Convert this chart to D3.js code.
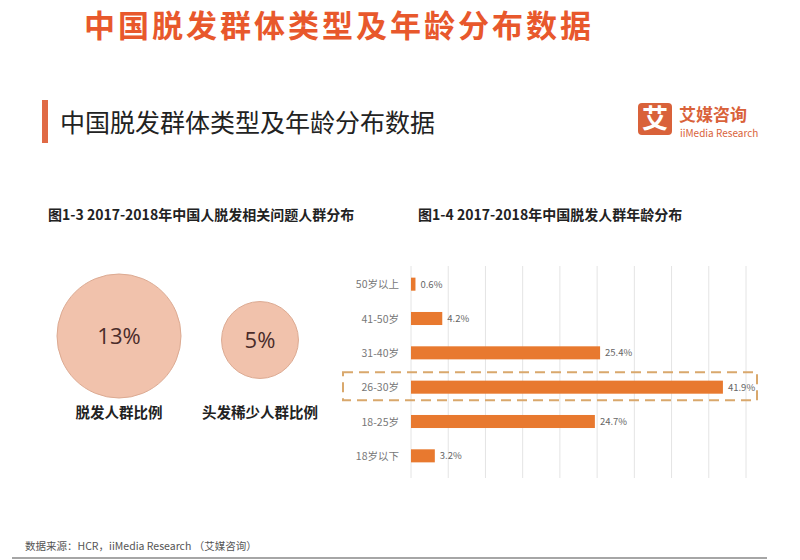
<!DOCTYPE html>
<html><head><meta charset="utf-8">
<script src="https://cdn.jsdelivr.net/npm/d3@7/dist/d3.min.js"></script>
<style>
html,body{margin:0;padding:0;background:#fff;}
svg{display:block;font-family:"Noto Sans CJK SC","Noto Sans",sans-serif;}
</style></head>
<body><svg id="c" width="800" height="560"></svg>
<script>
const pageTitle = "中国脱发群体类型及年龄分布数据";
const chartTitle1 = "图1-3 2017-2018年中国人脱发相关问题人群分布";
const chartTitle2 = "图1-4 2017-2018年中国脱发人群年龄分布";
const circleLabels = ["脱发人群比例", "头发稀少人群比例"];
const circleValues = [13, 5];
const ageGroups = ["50岁以上", "41-50岁", "31-40岁", "26-30岁", "18-25岁", "18岁以下"];
const ageValues = [0.6, 4.2, 25.4, 41.9, 24.7, 3.2];
const gridTicks = [0, 5, 10, 15, 20, 25, 30, 35, 40, 45];
const highlightGroup = "26-30岁";
const sourceText = "数据来源：HCR，iiMedia Research （艾媒咨询）";

const svg = d3.select("#c");
const orange = "#e8792f";

// top title
svg.append("text").attr("x", 84).attr("y", 37).attr("font-size", 31).attr("font-weight", "bold")
  .attr("fill", "#e8582c").attr("letter-spacing", 3).text(pageTitle);

// header bar + title
svg.append("rect").attr("x", 42).attr("y", 100).attr("width", 6).attr("height", 43).attr("fill", "#e06a45");
svg.append("text").attr("x", 60).attr("y", 132).attr("font-size", 25).attr("fill", "#222").text(pageTitle);

// logo
svg.append("rect").attr("x", 638).attr("y", 103).attr("width", 34).attr("height", 32).attr("rx", 4).attr("fill", "#d9623a");
svg.append("text").attr("x", 655).attr("y", 128).attr("text-anchor", "middle").attr("font-size", 26).attr("font-weight", "bold").attr("fill", "#fff").text("艾");
svg.append("text").attr("x", 679).attr("y", 121).attr("font-size", 17).attr("font-weight", "bold").attr("fill", "#d9623a").text("艾媒咨询");
svg.append("text").attr("x", 680).attr("y", 137).attr("font-size", 10).attr("fill", "#d9623a").text("iiMedia Research");

// chart titles
svg.append("text").attr("x", 48).attr("y", 220).attr("font-size", 14).attr("font-weight", "bold").attr("fill", "#222").text(chartTitle1);
svg.append("text").attr("x", 418).attr("y", 220).attr("font-size", 14).attr("font-weight", "bold").attr("fill", "#222").text(chartTitle2);

// circles
const rScale = d3.scaleSqrt().domain([0, 13]).range([0, 62]);
const cx = d3.scalePoint().domain(circleLabels).range([119, 260]);
const cy = [336, 340];
const g1 = svg.append("g");
circleLabels.forEach((lab, i) => {
  g1.append("circle").attr("cx", cx(lab)).attr("cy", cy[i]).attr("r", rScale(circleValues[i]))
    .attr("fill", "#f1c2ac").attr("stroke", "#dcaa92").attr("stroke-width", 1);
  g1.append("text").attr("x", cx(lab)).attr("y", cy[i] + 8).attr("text-anchor", "middle")
    .attr("font-size", 22).attr("fill", "#4a2c2a").attr("font-family", "'Open Sans', sans-serif")
    .text(circleValues[i] + "%");
  g1.append("text").attr("x", cx(lab)).attr("y", 418).attr("text-anchor", "middle")
    .attr("font-size", 14.5).attr("font-weight", "bold").attr("fill", "#222").text(lab);
});

// bar chart
const x = d3.scaleLinear().domain([0, 45]).range([411, 746]);
const y = d3.scaleBand().domain(ageGroups).range([267, 473]).paddingInner(0.62).paddingOuter(0.31);
const g2 = svg.append("g");
g2.selectAll("line.grid").data(gridTicks).enter().append("line")
  .attr("x1", d => x(d)).attr("x2", d => x(d)).attr("y1", 266).attr("y2", 478)
  .attr("stroke", "#e4e4e4").attr("stroke-width", 1);
g2.selectAll("rect.bar").data(ageValues).enter().append("rect")
  .attr("x", x(0)).attr("y", (d, i) => y(ageGroups[i]))
  .attr("width", d => x(d) - x(0)).attr("height", y.bandwidth()).attr("fill", orange);
g2.selectAll("text.val").data(ageValues).enter().append("text")
  .attr("x", d => x(d) + 5).attr("y", (d, i) => y(ageGroups[i]) + y.bandwidth() / 2 + 3.5)
  .attr("font-size", 9.5).attr("fill", "#666").text(d => d + "%");
g2.selectAll("text.cat").data(ageGroups).enter().append("text")
  .attr("x", 399).attr("y", d => y(d) + y.bandwidth() / 2 + 4)
  .attr("text-anchor", "end").attr("font-size", 10.5).attr("fill", "#777").text(d => d);

// highlight box
const hy = y(highlightGroup) + y.bandwidth() / 2;
svg.append("rect").attr("x", 343).attr("y", hy - 15).attr("width", 414).attr("height", 28)
  .attr("fill", "none").attr("stroke", "#d9a86c").attr("stroke-width", 2).attr("stroke-dasharray", "10,6");

// footer
svg.append("text").attr("x", 25).attr("y", 550).attr("font-size", 10.5).attr("fill", "#555").text(sourceText);
svg.append("line").attr("x1", 12).attr("x2", 767).attr("y1", 558).attr("y2", 558).attr("stroke", "#888").attr("stroke-width", 1.5);
</script></body></html>
